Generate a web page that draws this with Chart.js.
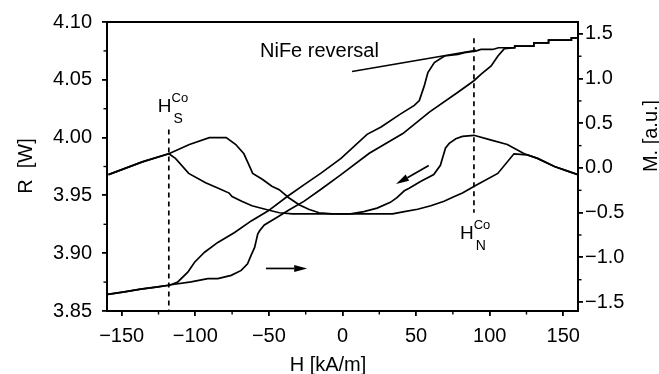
<!DOCTYPE html>
<html>
<head>
<meta charset="utf-8">
<script src="https://cdn.jsdelivr.net/npm/chart.js@4/dist/chart.umd.min.js"></script>
<style>
  html, body { margin: 0; padding: 0; background: #fff; }
  #wrap { width: 659px; height: 374px; }
</style>
</head>
<body>
<div id="wrap"><canvas id="c" width="659" height="374"></canvas></div>
<script>
// Axis ticks
const xTicks = [-150, -100, -50, 0, 50, 100, 150];
const xMinor = [-125, -75, -25, 25, 75, 125];
const rTicks = [3.85, 3.90, 3.95, 4.00, 4.05, 4.10];
const rMinor = [3.875, 3.925, 3.975, 4.025, 4.075];
const mTicks = [-1.5, -1.0, -0.5, 0, 0.5, 1.0, 1.5];
const mMinor = [-1.25, -0.75, -0.25, 0.25, 0.75, 1.25];

// Resistance, increasing-field sweep (H in kA/m, R in ohm)
const hRup = [-159, -136, -118, -104, -90.5, -79, -72.5, -67, -64.5, -61, -54.5, -48, -43, -36.5, -29.5, -23, -16, -7, 34, 42, 51, 60, 69, 76, 81.5, 89.5, 105.5, 116.5, 125.5, 132.5, 144, 153, 160];
const rUp  = [3.968, 3.979, 3.986, 3.994, 4.000, 4.000, 3.994, 3.986, 3.979, 3.969, 3.964, 3.958, 3.955, 3.948, 3.942, 3.938, 3.935, 3.934, 3.934, 3.936, 3.938, 3.941, 3.945, 3.949, 3.952, 3.958, 3.969, 3.986, 3.985, 3.982, 3.975, 3.971, 3.968];

// Resistance, decreasing-field sweep
const hRdown = [-159, -136, -118, -113.5, -104.5, -93, -84, -77, -75, -68.5, -61.5, -52.5, -43, -34, 5.5, 14.5, 23.5, 32.5, 37, 42, 45, 53, 62, 66.5, 70, 72.5, 77, 81.5, 89.3, 100.5, 112, 123.5, 132.5, 144, 153, 160];
const rDown  = [3.968, 3.979, 3.986, 3.982, 3.969, 3.961, 3.956, 3.952, 3.949, 3.945, 3.941, 3.938, 3.935, 3.934, 3.934, 3.936, 3.939, 3.944, 3.948, 3.954, 3.956, 3.962, 3.968, 3.976, 3.991, 3.995, 3.999, 4.001, 4.002, 3.998, 3.994, 3.986, 3.982, 3.975, 3.971, 3.968];

// Magnetisation, increasing-field branch (a.u.)
const hMup = [-159.5, -148.2, -137.1, -125.5, -114.1, -102.9, -91.5, -84.7, -75.6, -68.8, -64.5, -62.2, -59.7, -57.6, -56.3, -53.1, -44.1, -36.4, -26.0, -14.6, -1.0, 18.2, 41.0, 59.0, 78.4, 89.3, 94.2, 101.0, 105.6, 110, 117, 117, 130, 130, 140, 140, 155.5, 155.5, 160];
const mUp  = [-1.415, -1.386, -1.356, -1.331, -1.301, -1.275, -1.238, -1.238, -1.201, -1.146, -1.072, -0.98, -0.888, -0.740, -0.703, -0.637, -0.548, -0.470, -0.371, -0.238, -0.075, 0.164, 0.385, 0.625, 0.847, 0.976, 1.049, 1.142, 1.253, 1.335, 1.345, 1.364, 1.364, 1.40, 1.40, 1.43, 1.43, 1.456, 1.456];

// Magnetisation, decreasing-field branch
const hMdown = [-159.5, -148.2, -137.1, -125.5, -117.6, -111.9, -105.1, -100.5, -93.7, -84.7, -73.3, -62.0, -50.7, -37.3, -26.0, -14.6, -1.0, 16.7, 26.2, 39, 48.8, 52.2, 55.6, 58.0, 62.4, 69.3, 78.4, 82.9, 91, 94, 102, 106, 117, 117, 130, 130, 140, 140, 155.5, 155.5, 160];
const mDown  = [-1.415, -1.386, -1.356, -1.331, -1.312, -1.275, -1.165, -1.054, -0.943, -0.833, -0.722, -0.592, -0.482, -0.316, -0.186, -0.058, 0.108, 0.376, 0.459, 0.60, 0.700, 0.755, 0.921, 1.068, 1.179, 1.253, 1.271, 1.290, 1.31, 1.326, 1.326, 1.345, 1.345, 1.364, 1.364, 1.40, 1.40, 1.43, 1.43, 1.456, 1.456];

// NiFe reversal guide line (H, M)
const nifeH = [6.5, 90.8];
const nifeM = [1.079, 1.317];

// Characteristic Co fields (kA/m) and the R extent of their marker lines
const hSatCo = -118;
const hNucCo = 89.3;
const hSatR = [4.007, 3.85];
const hNucR = [4.086, 3.935];

const FONT = '"Liberation Sans", Arial, Helvetica, sans-serif';
const pts = (xs, ys) => xs.map((x, i) => ({ x, y: ys[i] }));
const minus = s => s.replace('-', '\u2212');

const curve = (data, axis) => ({
  data, yAxisID: axis, showLine: true, borderColor: '#000', borderWidth: 1.7,
  pointRadius: 0, tension: 0, fill: false
});
const dashed = (data) => ({
  data, yAxisID: 'yR', showLine: true, borderColor: '#000', borderWidth: 1.7,
  borderDash: [5, 4], pointRadius: 0, fill: false
});

const axisCommon = {
  grid: { drawOnChartArea: false, drawTicks: true, tickLength: 5, color: '#000', lineWidth: 1.8 },
  border: { display: true, color: '#000', width: 2 },
};

// Minor ticks, top frame, arrows, labels and axis titles
const decor = {
  id: 'decor',
  afterDraw(chart) {
    const { ctx, chartArea: a, scales } = chart;
    const sx = scales.x, sr = scales.yR, sm = scales.yM;
    ctx.save();
    ctx.strokeStyle = '#000';
    ctx.fillStyle = '#000';
    ctx.lineWidth = 2;
    // top frame line
    ctx.beginPath(); ctx.moveTo(a.left - 1, a.top); ctx.lineTo(a.right + 1, a.top); ctx.stroke();
    // minor ticks
    ctx.lineWidth = 1.4;
    xMinor.forEach(v => { const p = sx.getPixelForValue(v); ctx.beginPath(); ctx.moveTo(p, a.bottom); ctx.lineTo(p, a.bottom + 3.5); ctx.stroke(); });
    rMinor.forEach(v => { const p = sr.getPixelForValue(v); ctx.beginPath(); ctx.moveTo(a.left, p); ctx.lineTo(a.left - 3.5, p); ctx.stroke(); });
    mMinor.forEach(v => { const p = sm.getPixelForValue(v); ctx.beginPath(); ctx.moveTo(a.right, p); ctx.lineTo(a.right + 3.5, p); ctx.stroke(); });

    // arrows (data coordinates on the R axis)
    const arrow = (h0, r0, h1, r1) => {
      const x0 = sx.getPixelForValue(h0), y0 = sr.getPixelForValue(r0);
      const x1 = sx.getPixelForValue(h1), y1 = sr.getPixelForValue(r1);
      const ang = Math.atan2(y1 - y0, x1 - x0), L = 13, W = 3.5;
      const bx = x1 - L * Math.cos(ang), by = y1 - L * Math.sin(ang);
      ctx.lineWidth = 1.7;
      ctx.beginPath(); ctx.moveTo(x0, y0); ctx.lineTo(bx, by); ctx.stroke();
      ctx.beginPath();
      ctx.moveTo(x1, y1);
      ctx.lineTo(bx + W * Math.sin(ang), by - W * Math.cos(ang));
      ctx.lineTo(bx - W * Math.sin(ang), by + W * Math.cos(ang));
      ctx.closePath(); ctx.fill();
    };
    arrow(-52, 3.8868, -24, 3.8868);
    arrow(58.6, 3.9759, 36.4, 3.9598);

    // annotation texts
    ctx.textBaseline = 'alphabetic';
    ctx.textAlign = 'left';
    ctx.font = '20px ' + FONT;
    ctx.fillText('NiFe reversal', 260, 57);

    const fieldLabel = (x, yb, sub) => {
      ctx.font = '19px ' + FONT;
      ctx.fillText('H', x, yb);
      const w = ctx.measureText('H').width;
      ctx.font = '13px ' + FONT;
      ctx.fillText('Co', x + w, yb - 10);
      ctx.font = '14px ' + FONT;
      ctx.fillText(sub, x + w + 2, yb + 11);
    };
    fieldLabel(sx.getPixelForValue(hSatCo) - 11, 112, 'S');
    fieldLabel(sx.getPixelForValue(hNucCo) - 14, 239, 'N');

    // axis titles
    ctx.font = '20px ' + FONT;
    ctx.textAlign = 'center';
    ctx.fillText('H [kA/m]', 328, 371);
    ctx.save();
    ctx.translate(32, 166); ctx.rotate(-Math.PI / 2);
    ctx.fillText('R  [W]', 0, 0);
    ctx.restore();
    ctx.save();
    ctx.translate(657, 136); ctx.rotate(-Math.PI / 2);
    ctx.fillText('M. [a.u.]', 0, 0);
    ctx.restore();
    ctx.restore();
  }
};

new Chart(document.getElementById('c'), {
  type: 'scatter',
  data: {
    datasets: [
      curve(pts(hRup, rUp), 'yR'),
      curve(pts(hRdown, rDown), 'yR'),
      curve(pts(hMup, mUp), 'yM'),
      curve(pts(hMdown, mDown), 'yM'),
      curve(pts(nifeH, nifeM), 'yM'),
      dashed([{ x: hSatCo, y: hSatR[0] }, { x: hSatCo, y: hSatR[1] }]),
      dashed([{ x: hNucCo, y: hNucR[0] }, { x: hNucCo, y: hNucR[1] }]),
    ]
  },
  options: {
    responsive: false,
    animation: false,
    devicePixelRatio: 1,
    layout: { padding: { top: 19, left: 0, right: 0, bottom: 0 } },
    plugins: { legend: { display: false }, tooltip: { enabled: false } },
    scales: {
      x: {
        type: 'linear', position: 'bottom', min: -160, max: 160,
        ...axisCommon,
        afterFit: s => { s.height = 63; },
        afterBuildTicks: s => { s.ticks = xTicks.map(v => ({ value: v })); },
        ticks: { color: '#000', font: { family: FONT, size: 20 }, padding: 8, maxRotation: 0, autoSkip: false,
                 callback: v => minus(String(v)) }
      },
      yR: {
        type: 'linear', position: 'left', min: 3.85, max: 4.10,
        ...axisCommon,
        afterFit: s => { s.width = 107; },
        afterBuildTicks: s => { s.ticks = rTicks.map(v => ({ value: v })); },
        ticks: { color: '#000', font: { family: FONT, size: 20 }, padding: 10, autoSkip: false,
                 callback: v => Number(v).toFixed(2) }
      },
      yM: {
        type: 'linear', position: 'right', min: -1.60, max: 1.633,
        ...axisCommon,
        afterFit: s => { s.width = 81; },
        afterBuildTicks: s => { s.ticks = mTicks.map(v => ({ value: v })); },
        ticks: { color: '#000', font: { family: FONT, size: 20 }, padding: 2, autoSkip: false,
                 callback: v => minus(Number(v).toFixed(1)) }
      }
    }
  },
  plugins: [decor]
});
</script>
</body>
</html>
